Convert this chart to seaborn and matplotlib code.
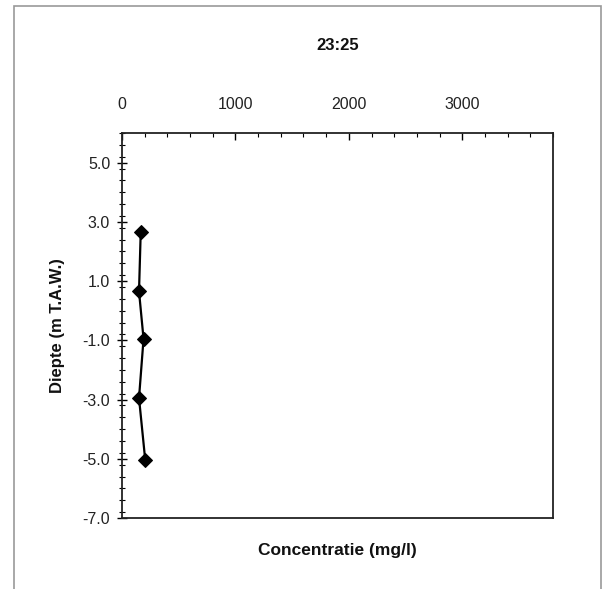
import matplotlib
matplotlib.use("Agg")
import matplotlib.pyplot as plt
import seaborn as sns
import pandas as pd
from matplotlib.ticker import MultipleLocator, FormatStrFormatter
from matplotlib.patches import Rectangle

# data
concentration = [165, 150, 190, 150, 205]
depth = [2.65, 0.65, -0.95, -2.95, -5.05]
title = "23:25"
xlabel = "Concentratie (mg/l)"
ylabel = "Diepte (m T.A.W.)"
x_ticks = [0, 1000, 2000, 3000]
y_ticks = [-7.0, -5.0, -3.0, -1.0, 1.0, 3.0, 5.0]

sns.set_style("white")
plt.rcParams['font.family'] = ['Liberation Sans', 'DejaVu Sans']

df = pd.DataFrame({"conc": concentration, "depth": depth})

fig = plt.figure(figsize=(6.03, 5.89), dpi=100)
ax = fig.add_axes([122/603, 1-518/589, (553-122)/603, (518-133)/589])

sns.lineplot(data=df, x="conc", y="depth", sort=False, orient="y", estimator=None,
             marker="D", markersize=7, color="black", linewidth=1.6,
             markeredgecolor="black", ax=ax)

ax.set_xlim(0, 3800)
ax.set_ylim(-7.0, 6.0)
ax.xaxis.tick_top()
ax.set_xticks(x_ticks)
ax.xaxis.set_minor_locator(MultipleLocator(200))
ax.set_yticks(y_ticks)
ax.yaxis.set_major_formatter(FormatStrFormatter('%.1f'))
ax.yaxis.set_minor_locator(MultipleLocator(0.4))

ax.tick_params(axis='x', which='both', direction='in', top=True, bottom=False,
               labeltop=True, labelbottom=False, labelsize=11.5, pad=15, color='black',
               labelcolor='#222222')
ax.tick_params(axis='x', which='major', length=5, width=1)
ax.tick_params(axis='x', which='minor', length=3, width=0.8)
ax.tick_params(axis='y', which='both', direction='inout', left=True, labelsize=11.5,
               color='black', labelcolor='#222222')
ax.tick_params(axis='y', which='major', length=7, width=1, pad=5)
ax.tick_params(axis='y', which='minor', length=4, width=0.8)

for s in ax.spines.values():
    s.set_visible(True)
    s.set_color('#222222')
    s.set_linewidth(1.3)

ax.xaxis.set_label_position('bottom')
ax.set_xlabel(xlabel, fontsize=12.5, fontweight='bold', labelpad=18, color='#111111')
ax.set_ylabel(ylabel, fontsize=12, fontweight='bold', labelpad=13, color='#111111')
fig.text(0.5*(122+553)/603, 1-45/589, title, ha='center', va='center',
         fontsize=12, fontweight='bold', color='#111111')

fig.patches.append(Rectangle((14/603, -0.05), (601-14)/603, 1.05-6/589, transform=fig.transFigure,
                             fill=False, edgecolor='#999999', linewidth=1.2))

fig.savefig("out.png", dpi=100)
